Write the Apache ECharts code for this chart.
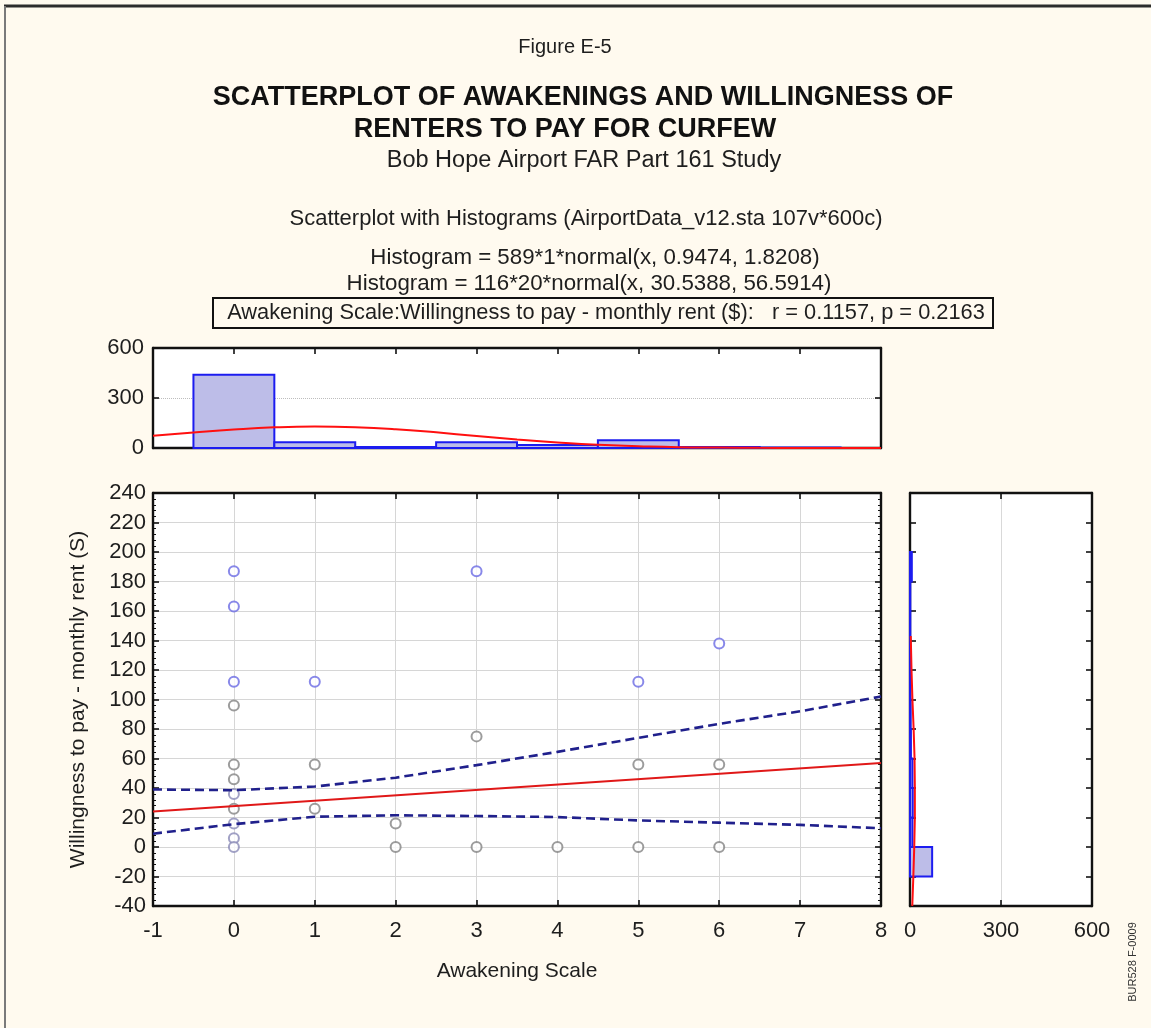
<!DOCTYPE html>
<html><head><meta charset="utf-8">
<script src="https://cdn.jsdelivr.net/npm/echarts/dist/echarts.min.js"></script>
<style>html,body{margin:0;padding:0;background:#fffaef;}#chart{width:1151px;height:1028px;}</style>
</head><body><div id="chart"></div>
<script>
// ---------- texts ----------
const figureLabel = 'Figure E-5';
const titleLine1 = 'SCATTERPLOT OF AWAKENINGS AND WILLINGNESS OF';
const titleLine2 = 'RENTERS TO PAY FOR CURFEW';
const subtitle = 'Bob Hope Airport FAR Part 161 Study';
const caption = 'Scatterplot with Histograms (AirportData_v12.sta 107v*600c)';
const histNote1 = 'Histogram = 589*1*normal(x, 0.9474, 1.8208)';
const histNote2 = 'Histogram = 116*20*normal(x, 30.5388, 56.5914)';
const corrNote = 'Awakening Scale:Willingness to pay - monthly rent ($):   r = 0.1157, p = 0.2163';
const xTitle = 'Awakening Scale';
const yTitle = 'Willingness to pay - monthly rent (S)';
const sideCode = 'BUR528 F-0009';

// ---------- scatter points ----------
const blueX = [0, 0, 0, 1, 3, 5, 6];
const blueY = [187, 163, 112, 112, 187, 112, 138];
const greyX = [0, 0, 0, 0, 1, 1, 2, 2, 3, 3, 4, 5, 5, 6, 6];
const greyY = [96, 56, 46, 26, 56, 26, 16, 0, 75, 0, 0, 56, 0, 56, 0];
const mixX = [0, 0, 0, 0];
const mixY = [36, 16, 6, 0];

// ---------- regression line and confidence bands ----------
const fitX = [-1, 8];
const fitY = [24, 57];
const bandX = [-1, 0, 1, 2, 3, 4, 5, 6, 7, 8];
const upperBand = [39, 38.5, 41, 47, 55.5, 64.5, 74, 83.5, 92, 102];
const lowerBand = [9, 15.5, 20.5, 21.5, 21, 20.3, 18, 16.5, 15, 12.7];

// ---------- top histogram (Awakening Scale) ----------
const topBinCenters = [0, 1, 2, 3, 4, 5, 6, 7];
const topBinCounts = [440, 34, 6, 34, 18, 46, 6, 3];
const topCurveX = [-1, -0.5, 0, 0.5, 1, 1.5, 2, 2.5, 3, 3.5, 4, 4.5, 5, 5.5, 6, 6.5, 7, 7.5, 8];
const topCurveY = [73, 93, 111, 124, 129, 125, 113, 94, 72, 51, 33, 19, 11, 5, 3, 1, 0.5, 0.2, 0.1];

// ---------- right histogram (Willingness to pay) ----------
const rightBinLows = [-20, 0, 20, 40, 60, 80, 100, 120, 140, 160, 180];
const rightBinCounts = [73, 8, 9, 8, 3, 2, 1, 1, 1, 1, 6];
const rightCurveY = [-40, -20, 0, 20, 40, 60, 80, 100, 120, 143];
const rightCurveCount = [7.5, 11, 14, 16, 16, 15, 12, 8, 5, 2.5];

// ---------- tick settings ----------
const xTicks = { min: -1, max: 8, interval: 1 };
const yTicks = { min: -40, max: 240, interval: 20 };
const countTicks = { min: 0, max: 600, interval: 300 };

// ---------- build ----------
const FONT = '"Liberation Sans", Arial, sans-serif';
const BG = '#fffaef';
const INK = '#1e1e1e';
const zip = (a, b) => a.map((v, i) => [v, b[i]]);
const topBinWidth = 1, rightBinWidth = 20;

const frame = { show: true, onZero: false, lineStyle: { color: '#111', width: 2.4 } };
const tickIn = (len) => ({ show: true, inside: true, length: len, lineStyle: { color: '#111', width: 1.6 } });
const lbl = { color: INK, fontFamily: FONT, fontSize: 22 };

function axisPair(kind, gridIndex, range, opts) {
  const main = Object.assign({
    type: 'value', gridIndex, min: range.min, max: range.max, interval: range.interval,
    axisLine: frame, axisTick: tickIn(6), splitLine: { show: false }
  }, opts.main);
  const mirror = Object.assign({
    type: 'value', gridIndex, min: range.min, max: range.max, interval: range.interval,
    position: kind === 'x' ? 'top' : 'right',
    axisLine: frame, axisTick: tickIn(6), axisLabel: { show: false }, splitLine: { show: false }
  }, opts.mirror);
  return [main, mirror];
}

const xAxes = [
  ...axisPair('x', 0, xTicks, {
    main: { position: 'bottom', axisLabel: Object.assign({ margin: 14 }, lbl),
      splitLine: { show: true, lineStyle: { color: '#d6d6d6', width: 1 } },
      name: xTitle, nameLocation: 'middle', nameGap: 55,
      nameTextStyle: { color: INK, fontFamily: FONT, fontSize: 21 } },
    mirror: {}
  }),
  ...axisPair('x', 1, xTicks, {
    main: { position: 'bottom', axisLabel: { show: false }, axisTick: { show: false } },
    mirror: {}
  }),
  ...axisPair('x', 2, countTicks, {
    main: { position: 'bottom', axisLabel: Object.assign({ margin: 14 }, lbl),
      splitLine: { show: true, lineStyle: { color: '#d9d9d9', width: 1 } } },
    mirror: {}
  })
];

const yAxes = [
  ...axisPair('y', 0, yTicks, {
    main: { position: 'left', axisLabel: Object.assign({ margin: 7 }, lbl),
      minorTick: { show: true, splitNumber: 5, length: 3, lineStyle: { color: '#111' } },
      splitLine: { show: true, lineStyle: { color: '#d6d6d6', width: 1 } },
      name: yTitle, nameLocation: 'middle', nameGap: 64, nameRotate: 90,
      nameTextStyle: { color: INK, fontFamily: FONT, fontSize: 21 } },
    mirror: { minorTick: { show: true, splitNumber: 5, length: 3, lineStyle: { color: '#111' } } }
  }),
  ...axisPair('y', 1, countTicks, {
    main: { position: 'left', axisLabel: Object.assign({ margin: 9 }, lbl),
      splitLine: { show: true, lineStyle: { color: '#bdbdbd', width: 1, type: 'dotted' } } },
    mirror: {}
  }),
  ...axisPair('y', 2, yTicks, {
    main: { position: 'left', axisLabel: { show: false } },
    mirror: {}
  })
];

function vBar(params, api) {
  const c = api.value(0), n = api.value(1);
  const p0 = api.coord([c - topBinWidth / 2, n]);
  const p1 = api.coord([c + topBinWidth / 2, 0]);
  return { type: 'rect', shape: { x: p0[0], y: p0[1], width: p1[0] - p0[0], height: p1[1] - p0[1] },
    style: { fill: '#bdbde8', stroke: '#1c1cf0', lineWidth: 2 } };
}
function hBar(params, api) {
  const lo = api.value(0), n = api.value(1);
  const p0 = api.coord([0, lo + rightBinWidth]);
  const p1 = api.coord([n, lo]);
  return { type: 'rect', shape: { x: p0[0], y: p0[1], width: p1[0] - p0[0], height: p1[1] - p0[1] },
    style: { fill: '#bdbde8', stroke: '#1c1cf0', lineWidth: 2 } };
}

const circle = (color) => ({
  type: 'scatter', xAxisIndex: 0, yAxisIndex: 0, symbol: 'emptyCircle', symbolSize: 10,
  itemStyle: { color: color, borderColor: color, borderWidth: 1.6 }, z: 3
});
const bandStyle = { color: '#20208c', width: 2.6, type: [9, 5] };

const option = {
  backgroundColor: BG,
  animation: false,
  grid: [
    { left: 153, top: 493, width: 728, height: 413, show: true, backgroundColor: '#ffffff', borderWidth: 0 },
    { left: 153, top: 348, width: 728, height: 100, show: true, backgroundColor: '#ffffff', borderWidth: 0 },
    { left: 910, top: 493, width: 182, height: 413, show: true, backgroundColor: '#ffffff', borderWidth: 0 }
  ],
  xAxis: [xAxes[0], xAxes[1], xAxes[2], xAxes[3], xAxes[4], xAxes[5]],
  yAxis: [yAxes[0], yAxes[1], yAxes[2], yAxes[3], yAxes[4], yAxes[5]],
  series: [
    Object.assign(circle('#6a6ae4'), { data: zip(blueX, blueY) }),
    Object.assign(circle('#838383'), { data: zip(greyX, greyY) }),
    Object.assign(circle('#8a8ab6'), { data: zip(mixX, mixY) }),
    { type: 'line', xAxisIndex: 0, yAxisIndex: 0, data: zip(fitX, fitY), showSymbol: false,
      lineStyle: { color: '#e01818', width: 2 }, z: 5 },
    { type: 'line', xAxisIndex: 0, yAxisIndex: 0, data: zip(bandX, upperBand), showSymbol: false,
      lineStyle: bandStyle, z: 4 },
    { type: 'line', xAxisIndex: 0, yAxisIndex: 0, data: zip(bandX, lowerBand), showSymbol: false,
      lineStyle: bandStyle, z: 4 },
    { type: 'custom', xAxisIndex: 2, yAxisIndex: 2, renderItem: vBar,
      data: zip(topBinCenters, topBinCounts), encode: { x: 0, y: 1 }, z: 2 },
    { type: 'line', xAxisIndex: 2, yAxisIndex: 2, data: zip(topCurveX, topCurveY), showSymbol: false,
      smooth: true, lineStyle: { color: '#ff1010', width: 2 }, z: 4 },
    { type: 'custom', xAxisIndex: 4, yAxisIndex: 4, renderItem: hBar,
      data: zip(rightBinLows, rightBinCounts), encode: { y: 0, x: 1 }, z: 2 },
    { type: 'line', xAxisIndex: 4, yAxisIndex: 4, data: zip(rightCurveCount, rightCurveY), showSymbol: false,
      smooth: false, lineStyle: { color: '#ff1010', width: 2 }, z: 4 }
  ],
  graphic: [
    { type: 'line', shape: { x1: 4, y1: 6, x2: 1151, y2: 6 }, style: { stroke: '#2c2c2c', lineWidth: 3 } },
    { type: 'line', shape: { x1: 5, y1: 6, x2: 5, y2: 1028 }, style: { stroke: '#7a7a7a', lineWidth: 2 } },
    { type: 'text', x: 565, y: 47, style: { text: figureLabel, font: '20px ' + FONT, fill: INK, align: 'center', verticalAlign: 'middle', textAlign: 'center', textVerticalAlign: 'middle' } },
    { type: 'text', x: 583, y: 98, style: { text: titleLine1, font: 'bold 27px ' + FONT, fill: '#111', align: 'center', verticalAlign: 'middle', textAlign: 'center', textVerticalAlign: 'middle' } },
    { type: 'text', x: 565, y: 130, style: { text: titleLine2, font: 'bold 27px ' + FONT, fill: '#111', align: 'center', verticalAlign: 'middle', textAlign: 'center', textVerticalAlign: 'middle' } },
    { type: 'text', x: 584, y: 161, style: { text: subtitle, font: '23.5px ' + FONT, fill: INK, align: 'center', verticalAlign: 'middle', textAlign: 'center', textVerticalAlign: 'middle' } },
    { type: 'text', x: 586, y: 219, style: { text: caption, font: '22px ' + FONT, fill: INK, align: 'center', verticalAlign: 'middle', textAlign: 'center', textVerticalAlign: 'middle' } },
    { type: 'text', x: 595, y: 258, style: { text: histNote1, font: '22.3px ' + FONT, fill: INK, align: 'center', verticalAlign: 'middle', textAlign: 'center', textVerticalAlign: 'middle' } },
    { type: 'text', x: 589, y: 284, z: 1, style: { text: histNote2, font: '22.3px ' + FONT, fill: INK, align: 'center', verticalAlign: 'middle', textAlign: 'center', textVerticalAlign: 'middle' } },
    { type: 'rect', z: 5, shape: { x: 213, y: 298, width: 780, height: 30 }, style: { fill: BG, stroke: '#111', lineWidth: 2 } },
    { type: 'text', x: 606, y: 313, z: 6, style: { text: corrNote, font: '21.8px ' + FONT, fill: INK, align: 'center', verticalAlign: 'middle', textAlign: 'center', textVerticalAlign: 'middle' } },
    { type: 'text', x: 1133, y: 962, rotation: Math.PI / 2, style: { text: sideCode, font: '11px ' + FONT, fill: '#333', align: 'center', verticalAlign: 'middle', textAlign: 'center', textVerticalAlign: 'middle' } }
  ]
};

const chart = echarts.init(document.getElementById('chart'), null, { renderer: 'canvas' });
chart.setOption(option);
</script></body></html>
